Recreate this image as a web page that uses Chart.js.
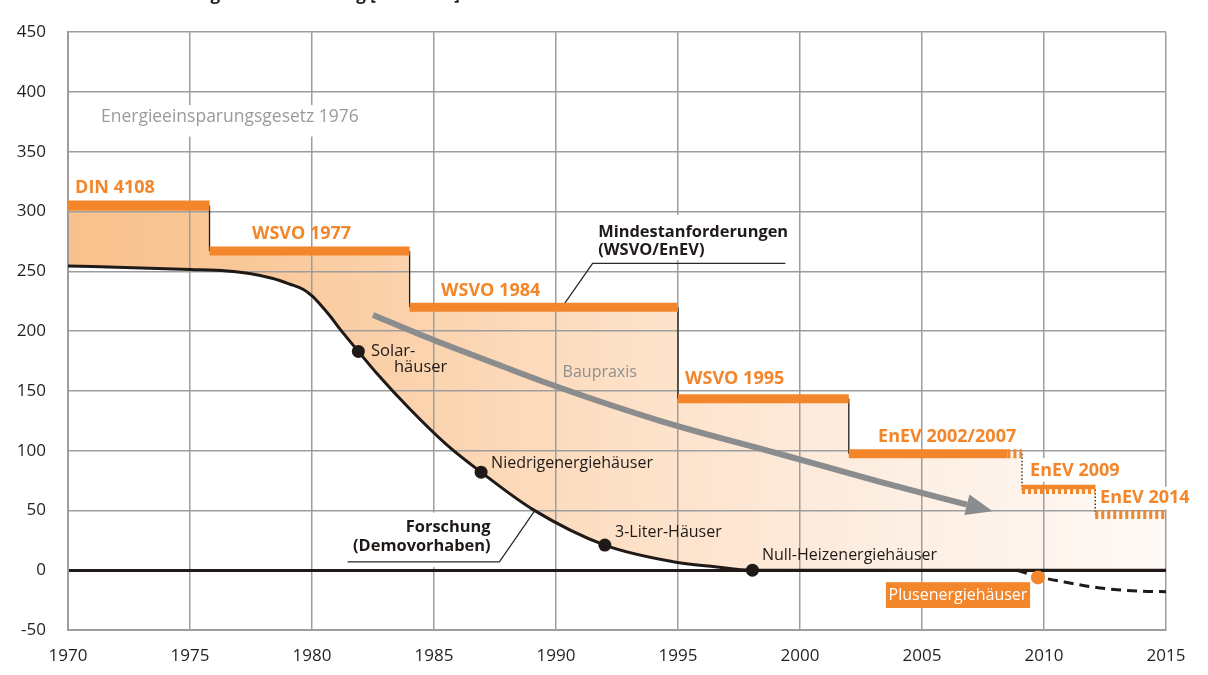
<!DOCTYPE html>
<html lang="de">
<head>
<meta charset="utf-8">
<title>Heizwärmebedarf – Entwicklung der Anforderung</title>
<script src="https://cdn.jsdelivr.net/npm/chart.js@4"></script>
<style>
  html, body { margin: 0; padding: 0; background: #fff; }
  #wrap { position: relative; width: 1208px; height: 675px; }
</style>
</head>
<body>
<div id="wrap"><canvas id="chart"></canvas></div>
<script>
// Mindestanforderungen (WSVO/EnEV): Beginn jeder Stufe und ihr Niveau
const stepYears = [1970, 1975.8, 1984, 1995, 2002, 2009.1, 2012.1, 2015];
const stepLevels = [305, 267, 220, 143.5, 97.5, 67.5, 46.5, 46.5];
const stepNames = ['DIN 4108', 'WSVO 1977', 'WSVO 1984', 'WSVO 1995', 'EnEV 2002/2007', 'EnEV 2009', 'EnEV 2014'];
// ab hier wird der Balken als Kamm gezeichnet (null = durchgehend)
const hatchStart = [null, null, null, null, 2008.5, 2009.1, 2012.1];
// EnEV 2009 hat oben zusätzlich einen durchgehenden Steg
const hatchCap = [false, false, false, false, false, true, false];

// Forschung (Demovorhaben)
const researchYears = [1970, 1973, 1975, 1976.5, 1977.5, 1978.4, 1979.1, 1979.63, 1980, 1980.33, 1980.74, 1981.19, 1981.9, 1982.66, 1984.02, 1985.49, 1986.93, 1989.06, 1992.0, 1994.8, 1996.52, 1998.05, 2015];
const researchValues = [254.5, 252.8, 251.5, 250.3, 248, 244, 239.2, 235, 229.5, 222.5, 212.6, 200.6, 183, 164.5, 134.6, 105.5, 82, 50.7, 21, 7.1, 2.9, 0, 0];

// markierte Haustypen auf der Forschungskurve
const houseYears = [1981.9, 1986.93, 1992.0, 1998.05];
const houseValues = [183, 82, 21, 0];

// Plusenergiehäuser (gestrichelte Fortsetzung unter null)
const plusYears = [2008.9, 2009.8, 2011, 2012, 2013, 2014, 2015];
const plusValues = [0, -5.5, -10.5, -14, -16.3, -17.5, -18];
const plusDotYear = [2009.75];
const plusDotValue = [-6];

// Baupraxis (Pfeil)
const practiceYears = [1982.5, 1984.96, 1987.5, 1989.96, 1994.26, 1999.18, 2003.28, 2006.84];
const practiceValues = [213.5, 192.7, 172.9, 154.1, 125, 97.2, 73.9, 54.8];
const practiceTip = [2007.9, 49.3];

// Hinweislinien zu den fetten Beschriftungen
const minLeaderYears = [1999.4, 1991.5, 1990.27];
const minLeaderValues = [256.6, 256.6, 220.6];
const resLeaderYears = [1981.46, 1987.68, 1989.11];
const resLeaderValues = [6.9, 6.9, 49.3];

const xTicks = [1970, 1975, 1980, 1985, 1990, 1995, 2000, 2005, 2010, 2015];
const yTicks = [-50, 0, 50, 100, 150, 200, 250, 300, 350, 400, 450];

const INK = '#1f1a17';
const ORANGE = '#f3862a';
const GRID = '#9d9d9d';
const FONT = '"Open Sans", "Noto Sans", sans-serif';

const xy = (xs, ys) => xs.map((x, i) => ({ x, y: ys[i] }));

function fillGradient(ctx) {
  const a = ctx.chart.chartArea;
  if (!a) return 'rgba(249,196,143,0.6)';
  const g = ctx.chart.ctx.createLinearGradient(a.left, 0, a.right, 0);
  g.addColorStop(0, '#f8c18c');
  g.addColorStop(0.15, '#f9c797');
  g.addColorStop(0.32, '#fbd3ae');
  g.addColorStop(0.52, '#fde1c8');
  g.addColorStop(0.72, '#fdede0');
  g.addColorStop(0.9, '#fef5ee');
  g.addColorStop(1, '#fffaf6');
  return g;
}

const datasets = [];

// Fläche unter den Anforderungsstufen; die Forschungskurve stellt darunter wieder weiß frei
datasets.push({
  label: 'Spanne', data: xy(stepYears, stepLevels), stepped: true,
  borderWidth: 0, borderColor: 'transparent', pointRadius: 0,
  fill: 'origin', backgroundColor: fillGradient, order: 20
});

// Forschungskurve
datasets.push({
  label: 'Forschung', data: xy(researchYears, researchValues),
  borderColor: INK, borderWidth: 3, pointRadius: 0,
  fill: 'origin', backgroundColor: '#ffffff',
  cubicInterpolationMode: 'monotone', order: 2
});

// senkrechte Übergänge zwischen den Stufen
for (let i = 1; i < stepNames.length; i++) {
  datasets.push({
    label: 'Übergang ' + i,
    data: [{ x: stepYears[i], y: stepLevels[i - 1] }, { x: stepYears[i], y: stepLevels[i] }],
    borderColor: INK, borderWidth: 1.3, pointRadius: 0,
    borderDash: i >= 5 ? [1.5, 2] : [], order: 6
  });
}

// orange Balken der einzelnen Verordnungen
for (let i = 0; i < stepNames.length; i++) {
  const start = stepYears[i], end = stepYears[i + 1], lvl = stepLevels[i];
  const solidEnd = hatchStart[i] === null ? end : hatchStart[i];
  if (solidEnd > start) {
    datasets.push({
      label: stepNames[i], data: [{ x: start, y: lvl }, { x: solidEnd, y: lvl }],
      borderColor: ORANGE, borderWidth: i === 0 ? 10 : 9, borderCapStyle: 'butt',
      pointRadius: 0, order: 4
    });
  }
  if (hatchStart[i] !== null) {
    datasets.push({
      label: stepNames[i] + ' Kamm', data: [{ x: hatchStart[i], y: lvl }, { x: end, y: lvl }],
      borderColor: ORANGE, borderWidth: 9, borderDash: [3, 3], borderCapStyle: 'butt',
      pointRadius: 0, order: 4
    });
  }
  if (hatchCap[i]) {
    datasets.push({
      label: stepNames[i] + ' Steg', data: [{ x: start, y: lvl + 2.2 }, { x: end, y: lvl + 2.2 }],
      borderColor: ORANGE, borderWidth: 4.5, borderCapStyle: 'butt',
      pointRadius: 0, order: 4
    });
  }
}

// Baupraxis
datasets.push({
  label: 'Baupraxis', data: xy(practiceYears, practiceValues),
  borderColor: '#8a8c8e', borderWidth: 6, pointRadius: 0,
  cubicInterpolationMode: 'monotone', borderCapStyle: 'butt', order: 1
});

// Plusenergie, gestrichelt
datasets.push({
  label: 'Plusenergie', data: xy(plusYears, plusValues),
  borderColor: INK, borderWidth: 3, borderDash: [10, 6], pointRadius: 0,
  cubicInterpolationMode: 'monotone', order: 2
});

// Hinweislinien
datasets.push({
  label: 'Hinweis Mindestanforderungen', data: xy(minLeaderYears, minLeaderValues),
  borderColor: '#2a2a2a', borderWidth: 1.3, pointRadius: 0, order: 5
});
datasets.push({
  label: 'Hinweis Forschung', data: xy(resLeaderYears, resLeaderValues),
  borderColor: '#2a2a2a', borderWidth: 1.3, pointRadius: 0, order: 5
});

// Punkte der Haustypen
datasets.push({
  label: 'Haustypen', data: xy(houseYears, houseValues), showLine: false,
  pointRadius: 6.5, pointBackgroundColor: INK, pointBorderWidth: 0, order: 0
});
datasets.push({
  label: 'Plusenergiehäuser', data: xy(plusDotYear, plusDotValue), showLine: false,
  pointRadius: 7, pointBackgroundColor: ORANGE, pointBorderWidth: 0, order: 0
});

// Texte, weiße Freistellungen und Pfeilspitze
const annotations = {
  id: 'annotations',
  beforeDatasetsDraw(chart) {
    const { ctx, scales: { x, y } } = chart;
    const boxes = [
      [1970.08, 1982.17, 389, 362.7],     // Energieeinsparungsgesetz
      [1991.56, 1999.67, 297.3, 259.5],   // Mindestanforderungen
      [1981.35, 1987.7, 48.2, 2.6],       // Forschung
      [2009.25, 2013.2, 93.8, 73.9],      // EnEV 2009
      [2012.15, 2016.6, 69.8, 50.8]       // EnEV 2014
    ];
    ctx.save();
    ctx.fillStyle = '#fff';
    boxes.forEach(([x0, x1, y0, y1]) => {
      const l = x.getPixelForValue(x0), r = x.getPixelForValue(x1);
      const t = y.getPixelForValue(y0), b = y.getPixelForValue(y1);
      ctx.fillRect(l, t, r - l, b - t);
    });
    ctx.restore();
  },
  afterDatasetsDraw(chart) {
    const { ctx, scales: { x, y } } = chart;
    const px = v => x.getPixelForValue(v), py = v => y.getPixelForValue(v);
    ctx.save();

    // Pfeilspitze der Baupraxis
    const n = practiceYears.length - 1;
    const bx = px(practiceYears[n]), by = py(practiceValues[n]);
    const tx = px(practiceTip[0]), ty = py(practiceTip[1]);
    const ang = Math.atan2(ty - by, tx - bx);
    const half = 10.5;
    ctx.fillStyle = '#8a8c8e';
    ctx.beginPath();
    ctx.moveTo(tx, ty);
    ctx.lineTo(bx + Math.sin(ang) * half, by - Math.cos(ang) * half);
    ctx.lineTo(bx - Math.sin(ang) * half, by + Math.cos(ang) * half);
    ctx.closePath();
    ctx.fill();

    // Kasten Plusenergiehäuser
    const pl = px(2003.52), pr = px(2009.43), pt = py(-10), pb = py(-31.6);
    ctx.fillStyle = ORANGE;
    ctx.fillRect(pl, pt, pr - pl, pb - pt);
    ctx.fillStyle = '#fff';
    ctx.font = '16px ' + FONT;
    ctx.textAlign = 'center';
    ctx.textBaseline = 'middle';
    ctx.fillText('Plusenergiehäuser', (pl + pr) / 2, (pt + pb) / 2);

    const labels = [
      // Verordnungen
      { t: stepNames[0], x: 1970.29, y: 320, f: 'bold 18px', c: ORANGE },
      { t: stepNames[1], x: 1977.54, y: 281.5, f: 'bold 18px', c: ORANGE },
      { t: stepNames[2], x: 1985.29, y: 233.4, f: 'bold 18px', c: ORANGE },
      { t: stepNames[3], x: 1995.29, y: 160.3, f: 'bold 18px', c: ORANGE },
      { t: stepNames[4], x: 2003.2, y: 111.3, f: 'bold 18px', c: ORANGE },
      { t: stepNames[5], x: 2009.43, y: 83, f: 'bold 18px', c: ORANGE },
      { t: stepNames[6], x: 2012.3, y: 60.6, f: 'bold 18px', c: ORANGE },
      // Erläuterungen
      { t: 'Energieeinsparungsgesetz 1976', x: 1971.35, y: 379.3, f: '17.5px', c: '#9a9a9a' },
      { t: 'Mindestanforderungen', x: 1991.73, y: 282.4, f: 'bold 16.4px', c: INK },
      { t: '(WSVO/EnEV)', x: 1991.73, y: 267.2, f: 'bold 16.4px', c: INK },
      { t: 'Forschung', x: 1987.32, y: 35.5, f: 'bold 16.4px', c: INK, a: 'right' },
      { t: '(Demovorhaben)', x: 1987.32, y: 19.9, f: 'bold 16.4px', c: INK, a: 'right' },
      { t: 'Baupraxis', x: 1990.27, y: 165.7, f: '16px', c: '#8f8f8f' },
      // Haustypen
      { t: 'Solar-', x: 1982.42, y: 182.7, f: '16.5px', c: INK },
      { t: 'häuser', x: 1983.36, y: 169.4, f: '16.5px', c: INK },
      { t: 'Niedrigenergiehäuser', x: 1987.34, y: 89.7, f: '16px', c: INK },
      { t: '3-Liter-Häuser', x: 1992.42, y: 31.6, f: '16px', c: INK },
      { t: 'Null-Heizenergiehäuser', x: 1998.44, y: 12, f: '16px', c: INK }
    ];
    ctx.textBaseline = 'middle';
    labels.forEach(l => {
      ctx.font = l.f + ' ' + FONT;
      ctx.fillStyle = l.c;
      ctx.textAlign = l.a || 'left';
      ctx.fillText(l.t, px(l.x), py(l.y));
    });

    // Überschrift (oben angeschnitten)
    ctx.font = 'bold 17px ' + FONT;
    ctx.fillStyle = INK;
    ctx.textAlign = 'right';
    ctx.textBaseline = 'alphabetic';
    ctx.fillText('Heizwärmebedarf – Entwicklung der Anforderung [kWh/m²a]', 460, 0);
    ctx.restore();
  }
};

new Chart(document.getElementById('chart'), {
  type: 'line',
  data: { datasets },
  plugins: [annotations],
  options: {
    responsive: true,
    maintainAspectRatio: false,
    animation: false,
    events: [],
    layout: { padding: { left: 0, right: 42, top: 28, bottom: 0 } },
    plugins: {
      legend: { display: false },
      tooltip: { enabled: false },
      filler: { drawTime: 'beforeDraw' }
    },
    scales: {
      x: {
        type: 'linear', min: 1970, max: 2015,
        afterBuildTicks: s => { s.ticks = xTicks.map(v => ({ value: v })); },
        afterFit: s => { s.height = 45; },
        ticks: {
          callback: v => String(v), padding: 16, maxRotation: 0, autoSkip: false,
          color: '#231f20', font: { family: FONT, size: 17 }
        },
        grid: { color: GRID, lineWidth: 1.5, drawTicks: false },
        border: { color: GRID, width: 2 }
      },
      y: {
        type: 'linear', min: -50, max: 450,
        afterBuildTicks: s => { s.ticks = yTicks.map(v => ({ value: v })); },
        afterFit: s => { s.width = 68; },
        ticks: {
          padding: 22, color: '#231f20', font: { family: FONT, size: 17 }
        },
        grid: {
          color: c => (c.tick && c.tick.value === 0 ? INK : GRID),
          lineWidth: c => (c.tick && c.tick.value === 0 ? 3 : 1.5),
          drawTicks: false
        },
        border: { color: GRID, width: 2 }
      }
    }
  }
});
</script>
</body>
</html>
